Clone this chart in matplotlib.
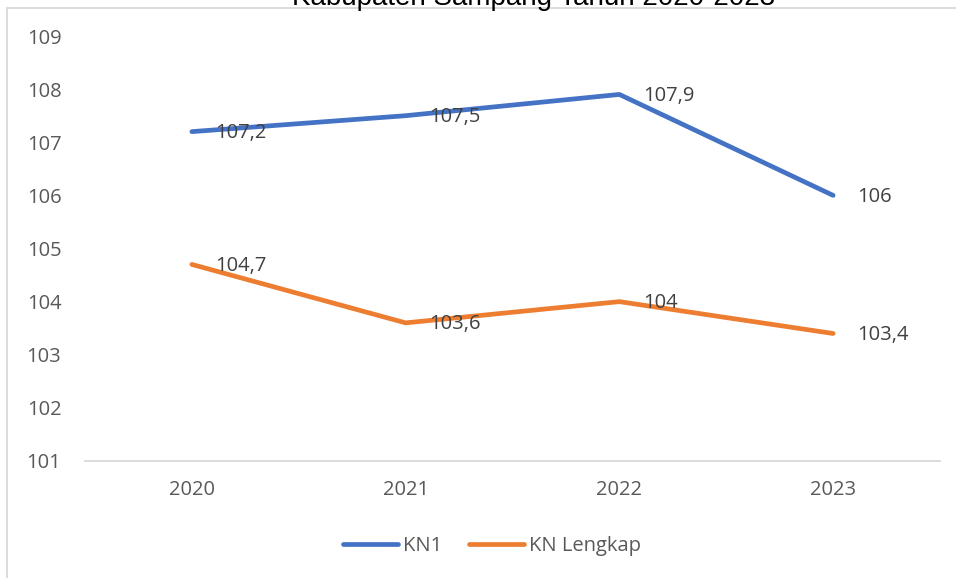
import matplotlib.pyplot as plt
from matplotlib.patches import Rectangle

years = ["2020", "2021", "2022", "2023"]
kn1 = [107.2, 107.5, 107.9, 106.0]
kn_lengkap = [104.7, 103.6, 104.0, 103.4]
kn1_labels = ["107,2", "107,5", "107,9", "106"]
kn_lengkap_labels = ["104,7", "103,6", "104", "103,4"]
y_ticks = [101, 102, 103, 104, 105, 106, 107, 108, 109]

W, H = 956, 578
fig = plt.figure(figsize=(W / 100, H / 100), dpi=100)
plt.rcParams['font.family'] = ['Open Sans', 'DejaVu Sans']

# chart-area border (partly outside the picture)
fig.patches.append(Rectangle((7 / W, -0.1), 1.2, 1 - 8 / H + 0.1,
                             transform=fig.transFigure, fill=False,
                             edgecolor='#d9d9d9', linewidth=1.3))

# title, cut off at the top like the original
fig.text(534 / W, 1 - 5 / H, "Kabupaten Sampang Tahun 2020-2023",
         ha='center', va='baseline', fontsize=20, color='black',
         family=['Liberation Sans', 'DejaVu Sans'])

ax = fig.add_axes([85 / W, 1 - 461 / H, (940 - 85) / W, (461 - 36) / H])
x = range(len(years))
ax.plot(x, kn1, color='#4472C4', linewidth=3.4, solid_capstyle='round',
        solid_joinstyle='round', label='KN1')
ax.plot(x, kn_lengkap, color='#ED7D31', linewidth=3.4, solid_capstyle='round',
        solid_joinstyle='round', label='KN Lengkap')

for vals, labels in [(kn1, kn1_labels), (kn_lengkap, kn_lengkap_labels)]:
    for i, (v, lab) in enumerate(zip(vals, labels)):
        ax.annotate(lab, (i, v), xytext=(17, -1), textcoords='offset points',
                    ha='left', va='center', fontsize=14.5, color='#404040')

ax.set_xlim(-0.5, 3.5)
ax.set_ylim(101, 109)
ax.set_xticks(list(x))
ax.set_xticklabels(years)
ax.set_yticks(y_ticks)
ax.tick_params(length=0, labelsize=14.5, labelcolor='#595959')
ax.tick_params(axis='y', pad=17)
ax.tick_params(axis='x', pad=14)
for s in ['top', 'right', 'left']:
    ax.spines[s].set_visible(False)
ax.spines['bottom'].set_color('#d9d9d9')
ax.spines['bottom'].set_linewidth(1.3)

leg = fig.legend(loc='center', bbox_to_anchor=(492 / W, 1 - 546 / H), ncol=2,
                 frameon=False, fontsize=14.5, handlelength=2.75,
                 handletextpad=0.25, columnspacing=1.3)
for t in leg.get_texts():
    t.set_color('#595959')

fig.savefig("out.png", dpi=100)
